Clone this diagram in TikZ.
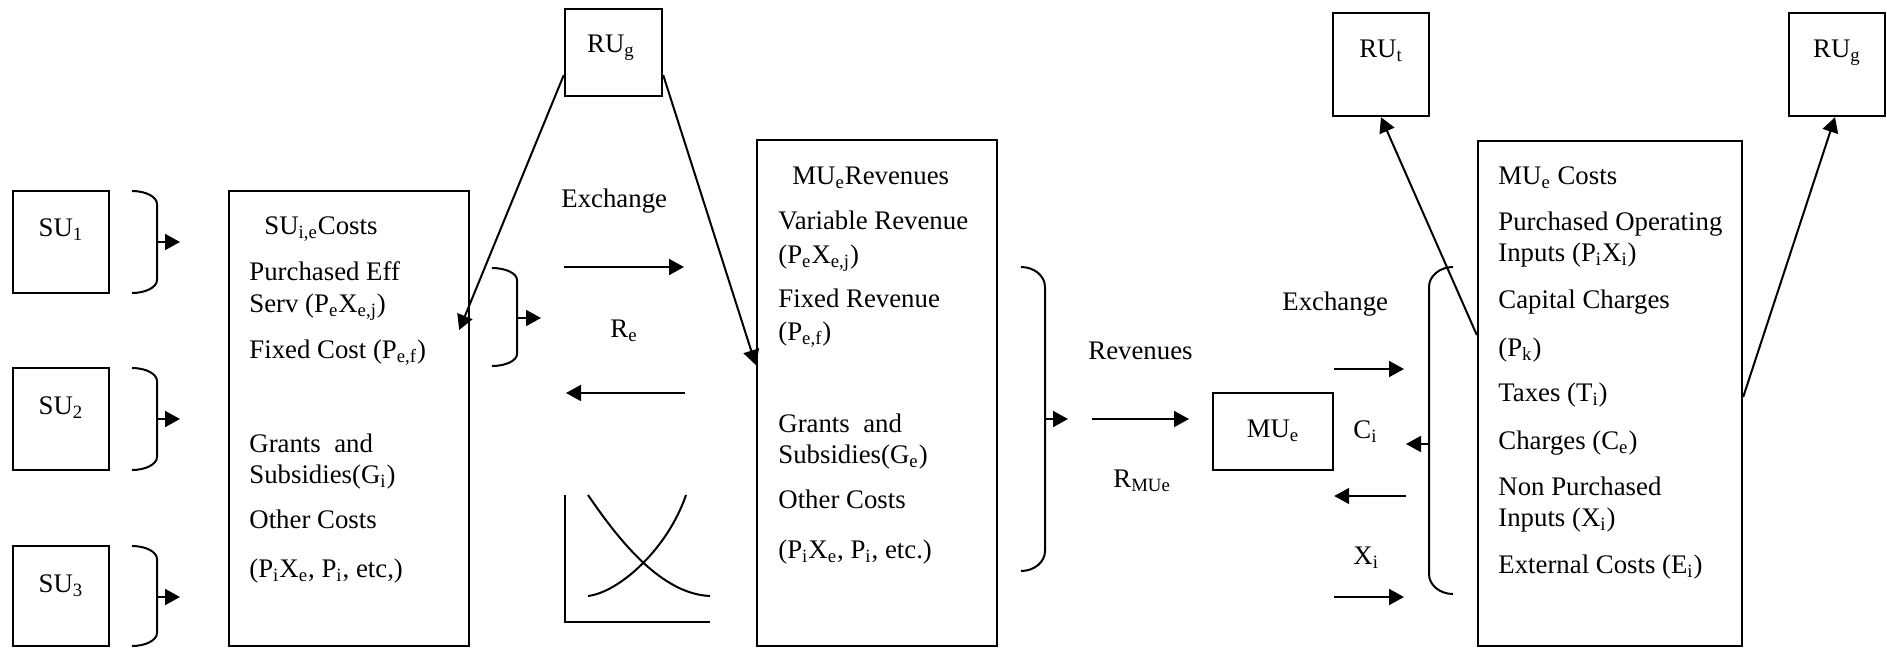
\documentclass[tikz,border=0pt]{standalone}
\usepackage{fontspec}
\setmainfont{Liberation Serif}
\usetikzlibrary{arrows.meta,fit,calc}
\newcommand{\dn}[1]{\textsubscript{#1}}
% bracket: #1 x of free ends, #2 x of spine, #3 top y, #4 bottom y, #5 corner height
\newcommand{\BrackPath}[5]{%
  \draw[conn] (#1,#3) .. controls ({#1+0.552*(#2-#1)},#3) and (#2,{#3+0.448*#5}) .. (#2,{#3+#5})
    -- (#2,{#4-#5}) .. controls (#2,{#4-0.448*#5}) and ({#1+0.552*(#2-#1)},#4) .. (#1,#4);}
\begin{document}
\begin{tikzpicture}[x=0.5pt,y=-0.5pt,
  box/.style={draw, line width=1.2pt, inner sep=0pt},
  txt/.style={anchor=base west, inner sep=0pt, font=\fontsize{13.4}{16}\selectfont},
  ctxt/.style={anchor=base, inner sep=0pt, font=\fontsize{13.4}{16}\selectfont},
  conn/.style={line width=1pt},
  arr/.style={conn, -{Triangle[length=7.5pt,width=8pt]}},
]
\useasboundingbox (0,0) rectangle (1887,649);

% ---------- boxes ----------
\node[box, fit={(13,191) (109,293)}] (su1) {};
\node[box, fit={(13,368) (109,470)}] (su2) {};
\node[box, fit={(13,546) (109,646)}] (su3) {};
\node[box, fit={(229,191) (469,646)}] (suc) {};
\node[box, fit={(565,9) (662,96)}] (rug1) {};
\node[box, fit={(757,140) (997,646)}] (mur) {};
\node[box, fit={(1213,393) (1333,470)}] (mue) {};
\node[box, fit={(1333,13) (1429,116)}] (rut) {};
\node[box, fit={(1478,141) (1742,646)}] (muc) {};
\node[box, fit={(1789,13) (1885,116)}] (rug2) {};

% ---------- box labels ----------
\node[ctxt] (su1t) at (61,236) {SU\dn{1}};
\node[ctxt] (su2t) at (61,414) {SU\dn{2}};
\node[ctxt] (su3t) at (61,592) {SU\dn{3}};
\node[ctxt] (rug1t) at (611,52) {RU\dn{g}};
\node[ctxt] (rutt) at (1381,57) {RU\dn{t}};
\node[ctxt] (rug2t) at (1837,57) {RU\dn{g}};
\node[ctxt] (muet) at (1273,437) {MU\dn{e}};

% ---------- SU costs ----------
\node[txt] (c0) at (264,234) {SU\dn{i,e}Costs};
\node[txt] (c1) at (249,280) {Purchased Eff};
\node[txt] (c2) at (249,312) {Serv (P\dn{e}X\dn{e,j})};
\node[txt] (c3) at (249,358) {Fixed Cost (P\dn{e,f})};
\node[txt] (c4) at (249,452) {Grants\ \ and};
\node[txt] (c5) at (249,483) {Subsidies(G\dn{i})};
\node[txt] (c6) at (249,528) {Other Costs};
\node[txt] (c7) at (249,577) {(P\dn{i}X\dn{e}, P\dn{i}, etc,)};

% ---------- MU revenues ----------
\node[txt] (r0) at (792,184) {MU\dn{e}Revenues};
\node[txt] (r1) at (778,229) {Variable Revenue};
\node[txt] (r2) at (778,263) {(P\dn{e}X\dn{e,j})};
\node[txt] (r3) at (778,307) {Fixed Revenue};
\node[txt] (r4) at (778,340) {(P\dn{e,f})};
\node[txt] (r5) at (778,432) {Grants\ \ and};
\node[txt] (r6) at (778,463) {Subsidies(G\dn{e})};
\node[txt] (r7) at (778,508) {Other Costs};
\node[txt] (r8) at (778,558) {(P\dn{i}X\dn{e}, P\dn{i}, etc.)};

% ---------- MU costs ----------
\node[txt] (m0) at (1498,184) {MU\dn{e} Costs};
\node[txt] (m1) at (1498,230) {Purchased Operating};
\node[txt] (m2) at (1498,261) {Inputs (P\dn{i}X\dn{i})};
\node[txt] (m3) at (1498,308) {Capital Charges};
\node[txt] (m4) at (1498,356) {(P\dn{k})};
\node[txt] (m5) at (1498,401) {Taxes (T\dn{i})};
\node[txt] (m6) at (1498,449) {Charges (C\dn{e})};
\node[txt] (m7) at (1498,495) {Non Purchased};
\node[txt] (m8) at (1498,526) {Inputs (X\dn{i})};
\node[txt] (m9) at (1498,573) {External Costs (E\dn{i})};

% ---------- free labels ----------
\node[txt] (exl) at (561,207) {Exchange};
\node[txt] (rel) at (610,337) {R\dn{e}};
\node[txt] (revl) at (1088,359) {Revenues};
\node[txt] (rmul) at (1113,487) {R\dn{MUe}};
\node[txt] (exr) at (1282,310) {Exchange};
\node[txt] (cil) at (1353,438) {C\dn{i}};
\node[txt] (xil) at (1353,564) {X\dn{i}};

% ---------- brackets ----------
\BrackPath{132}{157}{191}{293}{13}
\BrackPath{132}{157}{368}{470}{13}
\BrackPath{132}{157}{546}{646}{13}
\BrackPath{492}{517}{268}{366}{12}
\BrackPath{1021}{1045}{267}{571}{20}
\BrackPath{1453}{1429}{267}{594}{20}

% ---------- coordinates ----------
\coordinate (b1s) at (157,242);  \coordinate (b1e) at (180,242);
\coordinate (b2s) at (157,419);  \coordinate (b2e) at (180,419);
\coordinate (b3s) at (157,597);  \coordinate (b3e) at (180,597);
\coordinate (b4s) at (517,318);  \coordinate (b4e) at (541,318);
\coordinate (x1s) at (564,267);  \coordinate (x1e) at (684,267);
\coordinate (x2s) at (685,393);  \coordinate (x2e) at (566,393);
\coordinate (b5s) at (1045,419); \coordinate (b5e) at (1068,419);
\coordinate (rvs) at (1092,419); \coordinate (rve) at (1189,419);
\coordinate (e1e) at (1404,369);
\coordinate (e2s) at (1406,496);
\coordinate (e3e) at (1404,597);
\coordinate (b6s) at (1429,444); \coordinate (b6e) at (1406,444);
\coordinate (y75) at (0,75);
\coordinate (y330) at (0,330);
\coordinate (y365) at (0,365);
\coordinate (y335) at (0,335);
\coordinate (y397) at (0,397);
\coordinate (y369) at (0,369);
\coordinate (y496) at (0,496);
\coordinate (y597) at (0,597);

% ---------- arrows ----------
\draw[arr] (b1s) -- (b1e);
\draw[arr] (b2s) -- (b2e);
\draw[arr] (b3s) -- (b3e);
\draw[arr] (b4s) -- (b4e);
\draw[arr] (x1s) -- (x1e);
\draw[arr] (x2s) -- (x2e);
\draw[arr] (b5s) -- (b5e);
\draw[arr] (rvs) -- (rve);
\draw[arr] (mue.east |- y369) -- (e1e);
\draw[arr] (e2s) -- (mue.east |- y496);
\draw[arr] (mue.east |- y597) -- (e3e);
\draw[arr] (b6s) -- (b6e);

\draw[arr] (rug1.west |- y75) -- ([xshift=-5.5pt]suc.east |- y330);
\draw[arr] (rug1.east |- y75) -- (mur.west |- y365);
\draw[arr] (muc.west |- y335) -- (rut.south);
\draw[arr] (muc.east |- y397) -- ([xshift=-1pt]rug2.south);

% ---------- graph ----------
\coordinate (ax0) at (565,495);
\coordinate (ax1) at (565,622);
\coordinate (ax2) at (710,622);
\draw[conn] (ax0) -- (ax1) -- (ax2);
\coordinate (d0) at (588,495); \coordinate (d1) at (710,596);
\coordinate (u0) at (588,596); \coordinate (u1) at (686,495);
\draw[conn] (d0) .. controls (620,542) and (662,594) .. (d1);
\draw[conn] (u0) .. controls (620,592) and (668,548) .. (u1);
\end{tikzpicture}
\end{document}
